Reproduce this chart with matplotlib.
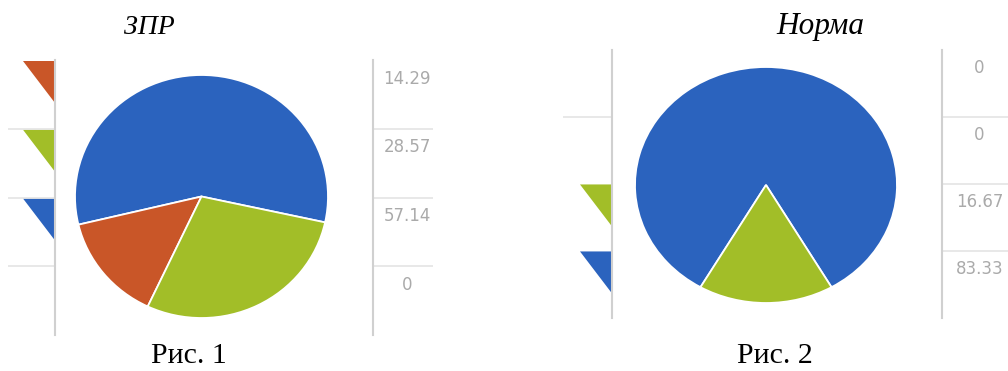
import numpy as np
from matplotlib import pyplot as plt

# values shown in each panel's side table (top row first)
zpr_table = [14.29, 28.57, 57.14, 0]
norm_table = [0, 0, 16.67, 83.33]

# pie slices, in drawing order (counter-clockwise)
zpr_slices = [57.14, 14.29, 28.57]
zpr_colors = ['#2b63be', '#c95628', '#a2be28']
norm_slices = [83.33, 16.67]
norm_colors = ['#2b63be', '#a2be28']

# colours of the cut-off legend swatches, one per table row
zpr_rows = ['#c95628', '#a2be28', '#2b63be', '#999999']
norm_rows = ['#999999', '#999999', '#a2be28', '#2b63be']

W, H = 1008, 371
fig = plt.figure(figsize=(W / 100, H / 100), dpi=100)


def rect(x0, y0, x1, y1):
    return [x0 / W, 1 - y1 / H, (x1 - x0) / W, (y1 - y0) / H]


grey = '#d0d0d0'
tri = [(-32, 21), (0, 21), (0, -21), (-32, 21)]


def swatch_strip(box, rows, values, lines):
    ax = fig.add_axes(rect(*box))
    n = len(values)
    ys = np.arange(n) + 0.32
    show = np.array(values) > 0
    ax.scatter(np.ones(show.sum()), ys[show], s=2123, marker=tri,
               c=np.array(rows)[show], linewidths=0)
    for b in lines:
        ax.axhline(b, color='#e4e4e4', lw=1.2)
    ax.set_xlim(0, 1)
    ax.set_ylim(n, 0)
    for s in ['top', 'left', 'bottom']:
        ax.spines[s].set_visible(False)
    ax.spines['right'].set_color(grey)
    ax.spines['right'].set_linewidth(1.5)
    ax.set_xticks([])
    ax.set_yticks([])


def value_strip(box, values):
    ax = fig.add_axes(rect(*box))
    n = len(values)
    for i, v in enumerate(values):
        ax.text(0.57, i + 0.27, f'{v:g}', ha='center', va='center',
                fontsize=12, color='#aaaaaa')
    for b in range(1, n):
        ax.axhline(b, color='#e4e4e4', lw=1.2)
    ax.set_xlim(0, 1)
    ax.set_ylim(n, 0)
    for s in ['top', 'right', 'bottom']:
        ax.spines[s].set_visible(False)
    ax.spines['left'].set_color(grey)
    ax.spines['left'].set_linewidth(1.5)
    ax.set_xticks([])
    ax.set_yticks([])


def pie(box, vals, cols, start):
    ax = fig.add_axes(rect(*box))
    ax.pie(vals, colors=cols, startangle=start, counterclock=True,
           wedgeprops=dict(edgecolor='white', linewidth=1.3))
    ax.set_aspect('auto')
    ax.set_xlim(-1, 1)
    ax.set_ylim(-1, 1)
    ax.axis('off')


# panel 1
swatch_strip((8, 60, 55, 335), zpr_rows, zpr_table, [1, 2, 3])
pie((75, 75, 328, 318), zpr_slices, zpr_colors, -12.3)
value_strip((373, 60, 433, 335), zpr_table)

# panel 2
swatch_strip((563, 50, 612, 318), norm_rows, norm_table, [1])
pie((635, 67, 897, 303), norm_slices, norm_colors, -60)
value_strip((942, 50, 1008, 318), norm_table)

serif = 'Liberation Serif'
fig.text(149 / W, 1 - 34 / H, 'ЗПР', family=serif, style='italic',
         fontsize=20, ha='center', va='baseline')
fig.text(820 / W, 1 - 34 / H, 'Норма', family=serif, style='italic',
         fontsize=22.5, ha='center', va='baseline')
fig.text(189 / W, 1 - 363 / H, 'Рис. 1', family=serif,
         fontsize=21.5, ha='center', va='baseline')
fig.text(775 / W, 1 - 363 / H, 'Рис. 2', family=serif,
         fontsize=21.5, ha='center', va='baseline')

fig.savefig('out.png', dpi=100)
